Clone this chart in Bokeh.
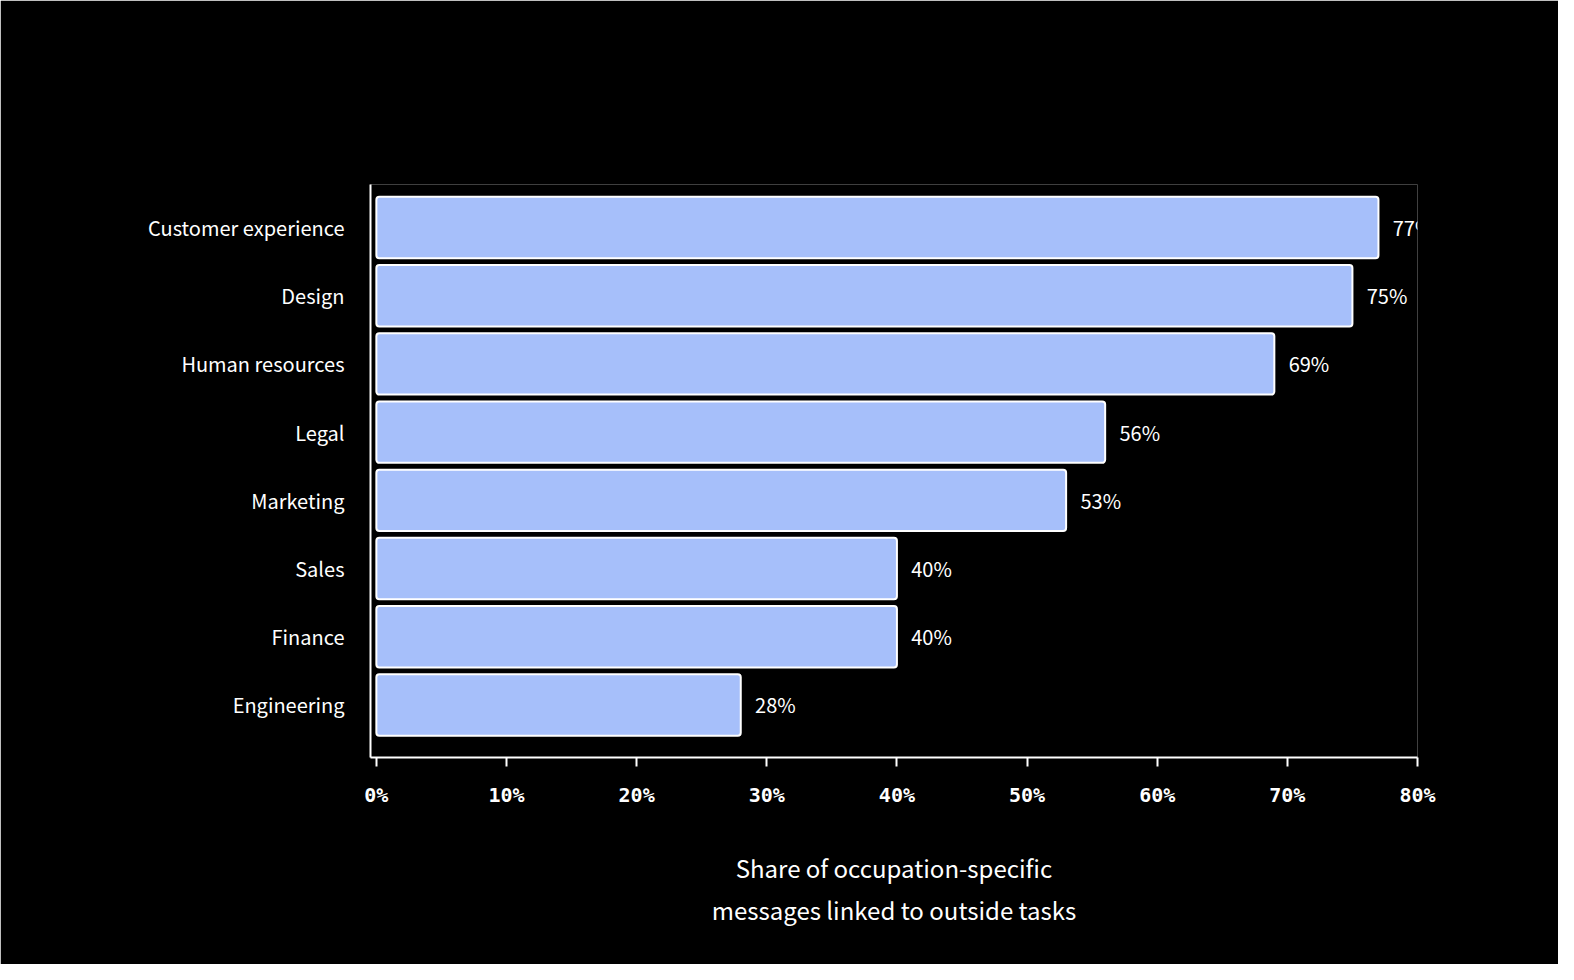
from bokeh.plotting import figure
from bokeh.models import Label, FixedTicker, ColumnDataSource
from bokeh.core.properties import value as V
from bokeh.embed import file_html
from bokeh.resources import INLINE

categories = ["Customer experience", "Design", "Human resources", "Legal",
              "Marketing", "Sales", "Finance", "Engineering"]
values = [77, 75, 69, 56, 53, 40, 40, 28]
x_ticks = [0, 10, 20, 30, 40, 50, 60, 70, 80]

n = len(categories)
ypos = [n - 1 - i for i in range(n)]
src = ColumnDataSource(dict(y=ypos, v=values, lab=[f"{v}%" for v in values],
                            lx=[v + 1.1 for v in values]))

FONT = "Noto Sans CJK KR"
p = figure(width=1558, height=964, output_backend="svg", toolbar_location=None,
           x_range=(-0.45, 80), y_range=(-0.77, 7.63),
           background_fill_color="black", border_fill_color="black",
           min_border_left=370, min_border_right=141, min_border_top=184,
           min_border_bottom=207, outline_line_color=None)
p.grid.visible = False
p.hbar(y="y", left=0, right="v", height=0.9, source=src,
       fill_color="#a6bffa", line_color="white", line_width=2, border_radius=3)
p.text(x="lx", y="y", text="lab", source=src, text_color="white",
       text_font=V(FONT), text_font_size="20px",
       text_baseline="middle", text_align="left")

p.xaxis.ticker = FixedTicker(ticks=x_ticks)
p.xaxis.major_label_overrides = {t: f"{t}%" for t in x_ticks}
p.xaxis.major_label_text_font = "DejaVu Sans Mono"
p.xaxis.major_label_text_font_style = "bold"
p.xaxis.major_label_text_font_size = "20px"
p.xaxis.major_label_text_color = "white"
p.xaxis.major_label_standoff = 16
p.xaxis.major_tick_out = 9
p.xaxis.major_tick_in = 0
p.xaxis.minor_tick_line_color = None
p.xaxis.axis_line_color = "white"
p.xaxis.major_tick_line_color = "white"
p.xaxis.axis_line_width = 2
p.xaxis.major_tick_line_width = 2
p.xaxis.axis_label = "Share of occupation-specific\nmessages linked to outside tasks"
p.xaxis.axis_label_text_font = FONT
p.xaxis.axis_label_text_font_style = "normal"
p.xaxis.axis_label_text_font_size = "24px"
p.xaxis.axis_label_text_color = "white"
p.xaxis.axis_label_standoff = 40

p.yaxis.ticker = FixedTicker(ticks=ypos)
p.yaxis.major_label_overrides = {y: c for y, c in zip(ypos, categories)}
p.yaxis.major_label_text_font = FONT
p.yaxis.major_label_text_font_size = "20px"
p.yaxis.major_label_text_color = "white"
p.yaxis.major_label_standoff = 20
p.yaxis.major_tick_line_color = None
p.yaxis.minor_tick_line_color = None
p.yaxis.axis_line_color = "white"
p.yaxis.axis_line_width = 2

p.add_layout(Label(x=104, y=964 - 104, x_units="screen", y_units="screen",
                   text="Outside occupation work is a majority in five of eight groups",
                   text_font=FONT, text_font_style="bold", text_font_size="28px",
                   text_color="white", text_baseline="middle"))

open("out.html", "w").write(file_html(p, INLINE))
